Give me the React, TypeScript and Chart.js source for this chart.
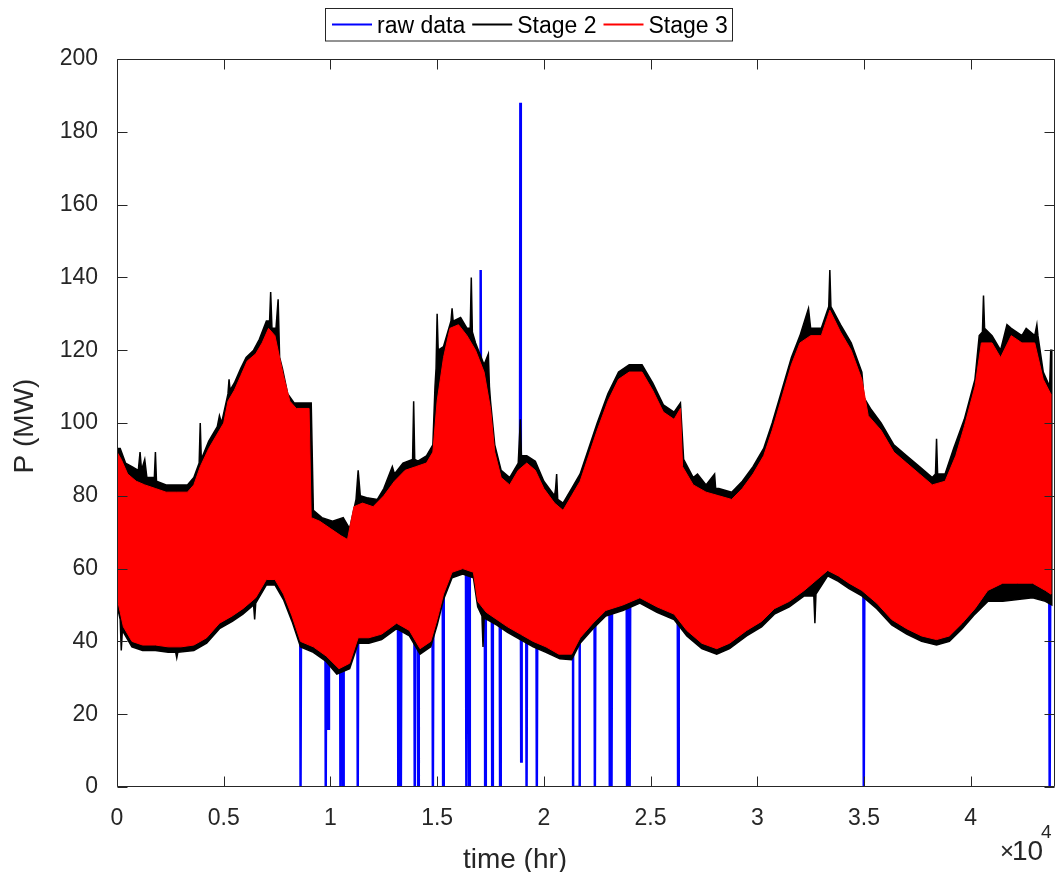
import React, { useEffect, useRef } from 'react';
import { Chart, registerables } from 'chart.js';

Chart.register(...registerables);

const FONT = '"Liberation Sans", Arial, Helvetica, sans-serif';
const INK = '#262626';

// ---- axis ----
const X_MIN = 0;
const X_MAX = 43950;
const Y_MIN = 0;
const Y_MAX = 200;
const xTickValues = [0, 5000, 10000, 15000, 20000, 25000, 30000, 35000, 40000];
const xTickLabels = ['0', '0.5', '1', '1.5', '2', '2.5', '3', '3.5', '4'];
const yTickValues = [0, 20, 40, 60, 80, 100, 120, 140, 160, 180, 200];
const yTickLabels = ['0', '20', '40', '60', '80', '100', '120', '140', '160', '180', '200'];

// ---- raw data (blue): level inside the band, with outage drops and spikes ----
const rawHours = [
  0, 300,
  8580, 8600, 8630,
  9760, 9780, 9810,
  9880, 9900, 9930,
  10450, 10470, 10500,
  10570, 10590, 10620,
  11260, 11280, 11310,
  13160, 13180, 13210,
  13280, 13300, 13330,
  13930, 13950, 13980,
  14090, 14110, 14140,
  14780, 14800, 14830,
  15260, 15280, 15310,
  16350, 16370, 16400,
  16480, 16500, 16530,
  17020, 17040, 17070,
  17230, 17250, 17280,
  17560, 17580, 17610,
  17930, 17950, 17980,
  18880, 18900, 18920, 18940, 18960,
  19170, 19190, 19220,
  19650, 19670, 19700,
  21370, 21370, 21680, 21680,
  22370, 22390, 22420,
  23070, 23090, 23120,
  23150, 23170, 23200,
  23880, 23900, 23930,
  24000, 24020, 24050,
  26270, 26290, 26320,
  34970, 34990, 35020,
  43680, 43700, 43730, 43800,
];
const rawValues = [
  55, 63,
  63, 0, 63,
  63, 0, 63,
  63, 16, 63,
  63, 0, 63,
  63, 0, 63,
  63, 0, 63,
  63, 0, 63,
  63, 0, 63,
  63, 0, 63,
  63, 0, 63,
  63, 0, 63,
  63, 0, 63,
  63, 0, 63,
  63, 0, 63,
  63, 142, 63,
  63, 0, 63,
  63, 0, 63,
  63, 0, 63,
  63, 188, 63, 7, 63,
  63, 0, 63,
  63, 0, 63,
  63, 0, 0, 63,
  63, 0, 63,
  63, 0, 63,
  63, 0, 63,
  63, 0, 63,
  63, 0, 63,
  63, 0, 63,
  63, 0, 63,
  63, 0, 63, 63,
];

// ---- Stage 2 (black) envelope ----
const stage2UpperHours = [
  0, 150, 400, 700, 1000, 1080, 1150, 1300, 1400, 1750, 1800, 1850, 2300, 2800, 3300, 3600, 3850, 3900, 3950,
  4300, 4700, 4800, 4900, 5200, 5250, 5300, 5500, 5800, 6050, 6400, 6670, 7000, 7150, 7200, 7260, 7450,
  7550, 7620, 7750, 8000, 8300, 9100, 9200, 9600, 10100, 10600, 10900, 11200, 11300, 11400, 11700, 12200,
  12500, 12900, 13000, 13400, 13850, 13900, 13950, 14100, 14500, 14800, 14900, 14950, 15000, 15050, 15300,
  15650, 15700, 15750, 16100, 16400, 16550, 16600, 16650, 16800, 17200, 17400, 17450, 17500, 17700, 18000,
  18400, 18800, 18900, 18950, 19200, 19600, 20000, 20500, 20550, 20600, 20650, 20900, 21300, 21700, 22100,
  22500, 23000, 23500, 24000, 24600, 25100, 25600, 26100, 26400, 26550, 27000, 27200, 27600, 28000, 28050,
  28200, 28800, 29300, 29800, 30300, 30700, 31100, 31600, 32000, 32400, 32500, 33000, 33350, 33400, 33450,
  33900, 34400, 34900, 35000, 35300, 35800, 36400, 37000, 37600, 38200, 38350, 38400, 38450, 38800, 39200,
  39700, 40200, 40400, 40550, 40600, 40650, 41000, 41400, 41700, 41900, 42400, 42600, 43000, 43100, 43150,
  43400, 43700, 43750, 43800,
];
const stage2Upper = [
  93, 93, 89, 88, 87, 92, 87, 90, 85, 85, 92, 84, 83, 83, 83, 85, 89, 100, 90,
  95, 99, 102, 100, 108, 112, 109, 111, 115, 118, 120, 123, 128, 128, 136, 126, 126,
  134, 118, 115, 108, 105.5, 105.5, 76, 74, 73, 74, 71, 79, 87, 80, 79.5, 79,
  82, 88, 86, 89, 90, 106, 90, 89.5, 91, 94, 110, 115, 130, 120, 121,
  128, 131.5, 128, 129, 126, 126, 140, 125, 122, 116, 119, 110, 106, 94, 87,
  85, 89, 101, 91, 91, 89.5, 84, 80, 82, 86, 79, 78, 82, 86, 93,
  100, 108, 114, 116, 116, 111, 105, 103, 105.5, 90, 85, 86, 83, 86, 82,
  82, 81, 84, 88, 93, 100, 108, 118, 124, 131.5, 126, 126, 132, 142, 132,
  127, 122, 114, 107, 104, 100, 94, 91, 88, 85, 86, 95.7, 86, 86, 93,
  101, 112, 124, 125, 135, 126, 124, 120, 127, 126, 124, 126, 124, 127, 124,
  114, 110, 120, 120,
];
const stage2LowerHours = [
  0, 150, 200, 250, 700, 1200, 1800, 2400, 2750, 2800, 2850, 3600, 4200, 4800, 5400, 5900, 6400, 6450, 6500,
  7000, 7400, 7800, 8200, 8600, 9200, 9800, 10300, 10900, 11300, 11800, 12400, 13100, 13700, 14200, 14700,
  15000, 15300, 15700, 16200, 16700, 16900, 17100, 17150, 17200, 17800, 18300, 18900, 19500, 20100, 20750,
  21300, 21700, 22300, 22900, 23700, 24500, 25300, 26100, 26700, 27400, 28100, 28700, 29500, 30200, 30800,
  31500, 32200, 32650, 32700, 32750, 33300, 33800, 34300, 34900, 35600, 36300, 37000, 37700, 38400, 39000,
  39600, 40200, 40800, 41500, 42200, 42900, 43500, 43800,
];
const stage2Lower = [
  50, 46, 37.5, 43, 38.5, 37.5, 37.5, 37, 37, 35.5, 37, 37.5, 39.5, 43.5, 45.5, 47.5, 50, 46, 50.5,
  55.5, 55.5, 51.5, 45.5, 38.5, 37, 34.5, 31, 32.5, 39.5, 39.5, 40.5, 43.5, 41.5, 36.5, 38.5,
  44.5, 51.5, 57.5, 58.5, 57.5, 49.5, 47, 38.5, 46.5, 44.5, 42.5, 40.5, 38.5, 37, 35.2,
  35, 39.5, 43.5, 47, 48.5, 50.5, 48, 46, 41.5, 38, 36.5, 38, 41.5, 44, 47.5,
  49.5, 52.5, 52.5, 45, 53, 58, 56.5, 54.5, 52.5, 49, 44.5, 42, 40, 39, 40,
  43.5, 47.5, 51, 51, 51.5, 52, 51, 50,
];

// ---- Stage 3 (red) envelope ----
const stage3UpperHours = [
  0, 200, 500, 900, 1300, 1800, 2300, 2800, 3300, 3600, 3900, 4300, 4700, 5000, 5200, 5500, 5800, 6100,
  6500, 6800, 7100, 7400, 7800, 8100, 8400, 9000, 9100, 9500, 10000, 10500, 10800, 11100, 11500, 12000,
  12500, 13000, 13500, 14000, 14500, 14800, 15000, 15300, 15600, 16000, 16400, 16800, 17200, 17500, 17700,
  18000, 18400, 18800, 19200, 19600, 20000, 20500, 20900, 21300, 21700, 22100, 22500, 23000, 23500, 24000,
  24600, 25100, 25600, 26100, 26400, 26500, 27000, 27600, 28200, 28800, 29300, 29800, 30300, 30700, 31100,
  31600, 32000, 32500, 33000, 33400, 33900, 34400, 34900, 35200, 35800, 36400, 37000, 37600, 38200, 38800,
  39300, 39700, 40200, 40500, 41000, 41400, 41900, 42400, 43000, 43400, 43750,
];
const stage3Upper = [
  92, 90, 86, 84, 83, 82, 81, 81, 81, 83, 88, 93, 97, 100, 106, 109, 113, 117,
  119, 122, 126, 124, 113, 106, 104, 104, 74, 73, 71, 69, 68, 77, 78, 77,
  80, 84, 87, 88, 89, 92, 106, 118, 126, 127, 124, 120, 114, 104, 92,
  85, 83, 87, 89, 87, 82, 78, 76, 80, 84, 91, 98, 106, 112, 114,
  114, 109, 103, 101, 104, 88, 83, 81, 80, 79, 82, 86, 91, 98, 106,
  116, 122, 124, 124, 131, 125, 120, 112, 102, 98, 92, 89, 86, 83, 84,
  91, 99, 110, 122, 122, 118, 124, 122, 122, 112, 108,
];
const stage3LowerHours = [
  0, 300, 700, 1200, 1800, 2400, 3000, 3600, 4200, 4800, 5400, 5900, 6500, 7000, 7400, 7800, 8200, 8600,
  9200, 9800, 10400, 10900, 11300, 11800, 12400, 13100, 13700, 14200, 14700, 15000, 15300, 15700, 16200,
  16700, 16900, 17300, 17800, 18300, 18900, 19500, 20100, 20700, 21300, 21700, 22300, 22900, 23700, 24500,
  25300, 26100, 26700, 27400, 28100, 28700, 29500, 30200, 30800, 31500, 32200, 32800, 33300, 33800, 34300,
  34900, 35600, 36300, 37000, 37700, 38400, 39000, 39600, 40200, 40800, 41500, 42200, 42900, 43500, 43750,
];
const stage3Lower = [
  52, 44, 40, 39, 39, 38.5, 38.5, 39, 41, 45, 47, 49, 52, 57, 57, 53, 47, 40,
  38.5, 36, 32.5, 34, 41, 41, 42, 45, 43, 38, 40, 46, 53, 59, 60,
  59, 51, 48, 46, 44, 42, 40, 38.5, 36.5, 36.5, 41, 45, 48.5, 50, 52,
  49.5, 47.5, 43, 39.5, 38, 39.5, 43, 45.5, 49, 51, 54, 57, 59.5, 58, 56,
  54, 50.5, 46, 43.5, 41.5, 40.5, 41.5, 45, 49, 54, 56, 56, 56, 54, 53,
];

const toPoints = (hours: number[], values: number[]) => hours.map((h, i) => ({ x: h, y: values[i] }));
const bandShape = (uh: number[], uv: number[], lh: number[], lv: number[]) =>
  [...toPoints(uh, uv), ...toPoints(lh, lv).reverse()];

const legendItems = [
  { text: 'raw data', color: '#0000FF' },
  { text: 'Stage 2', color: '#000000' },
  { text: 'Stage 3', color: '#FF0000' },
];

const matlabPlugin = {
  id: 'matlabDecor',
  afterDraw(chart: any) {
    const ctx: CanvasRenderingContext2D = chart.ctx;
    const { left, right, top, bottom } = chart.chartArea;
    const xs = chart.scales.x;
    const ys = chart.scales.y;
    ctx.save();
    ctx.strokeStyle = INK;
    ctx.lineWidth = 1;
    const L = Math.round(left) + 0.5;
    const R = Math.round(right) - 0.5;
    const T = Math.round(top) + 0.5;
    const B = Math.round(bottom) - 0.5;
    ctx.beginPath();
    ctx.rect(L, T, R - L, B - T);
    ctx.stroke();
    const tl = 10;
    ctx.beginPath();
    for (const t of xs.ticks) {
      const px = Math.round(xs.getPixelForValue(t.value)) + 0.5;
      ctx.moveTo(px, B); ctx.lineTo(px, B - tl);
      ctx.moveTo(px, T); ctx.lineTo(px, T + tl);
    }
    for (const t of ys.ticks) {
      const py = Math.round(ys.getPixelForValue(t.value)) + 0.5;
      ctx.moveTo(L, py); ctx.lineTo(L + tl, py);
      ctx.moveTo(R, py); ctx.lineTo(R - tl, py);
    }
    ctx.stroke();

    // axis labels
    ctx.fillStyle = INK;
    ctx.font = `28px ${FONT}`;
    ctx.textAlign = 'center';
    ctx.textBaseline = 'alphabetic';
    ctx.fillText('time (hr)', 515, 868);
    ctx.save();
    ctx.translate(33, 426);
    ctx.rotate(-Math.PI / 2);
    ctx.fillText('P (MW)', 0, 0);
    ctx.restore();

    // exponent
    ctx.textAlign = 'left';
    ctx.font = `24px ${FONT}`;
    ctx.fillText('\u00d7', 1000, 859);
    ctx.font = `28px ${FONT}`;
    ctx.fillText('10', 1012, 860);
    ctx.font = `19px ${FONT}`;
    ctx.fillText('4', 1041, 838);

    // legend
    ctx.font = `23px ${FONT}`;
    const boxL = 325.5, boxT = 8.5, boxH = 32.5;
    let x = 332;
    const lineY = 24.5;
    const positions: { lx: number; tx: number }[] = [];
    for (const item of legendItems) {
      const tx = x + 45;
      positions.push({ lx: x, tx });
      x = tx + ctx.measureText(item.text).width + 7;
    }
    const boxR = x - 7 + 5;
    ctx.fillStyle = '#ffffff';
    ctx.fillRect(boxL, boxT, boxR - boxL, boxH);
    ctx.strokeStyle = INK;
    ctx.lineWidth = 1;
    ctx.strokeRect(boxL, boxT, Math.round(boxR - boxL), boxH);
    legendItems.forEach((item, i) => {
      const p = positions[i];
      ctx.strokeStyle = item.color;
      ctx.lineWidth = 2;
      ctx.beginPath();
      ctx.moveTo(p.lx, lineY);
      ctx.lineTo(p.lx + 40, lineY);
      ctx.stroke();
      ctx.fillStyle = '#000000';
      ctx.textAlign = 'left';
      ctx.textBaseline = 'alphabetic';
      ctx.fillText(item.text, p.tx, 32.5);
    });
    ctx.restore();
  },
};

export default function App() {
  const ref = useRef<HTMLCanvasElement>(null);
  useEffect(() => {
    const canvas = ref.current;
    if (!canvas) return;
    const chart = new Chart(canvas, {
      type: 'line',
      data: {
        datasets: [
          {
            label: 'raw data',
            data: toPoints(rawHours, rawValues),
            borderColor: '#0000FF',
            backgroundColor: '#0000FF',
            borderWidth: 2.5,
            pointRadius: 0,
            fill: false,
            tension: 0,
            order: 3,
          },
          {
            label: 'Stage 2',
            data: bandShape(stage2UpperHours, stage2Upper, stage2LowerHours, stage2Lower),
            borderColor: '#000000',
            backgroundColor: '#000000',
            borderWidth: 1.5,
            pointRadius: 0,
            fill: 'shape',
            tension: 0,
            order: 2,
          },
          {
            label: 'Stage 3',
            data: bandShape(stage3UpperHours, stage3Upper, stage3LowerHours, stage3Lower),
            borderColor: '#FF0000',
            backgroundColor: '#FF0000',
            borderWidth: 1,
            pointRadius: 0,
            fill: 'shape',
            tension: 0,
            order: 1,
          },
        ],
      },
      options: {
        responsive: false,
        animation: false,
        devicePixelRatio: 1,
        layout: { padding: { top: 59, right: 4, bottom: 0, left: 0 } },
        plugins: {
          legend: { display: false },
          tooltip: { enabled: false },
        },
        scales: {
          x: {
            type: 'linear',
            bounds: 'data',
            min: X_MIN,
            max: X_MAX,
            grid: { display: false },
            border: { display: false },
            afterBuildTicks: (s: any) => { s.ticks = xTickValues.map((v) => ({ value: v })); },
            ticks: {
              autoSkip: false,
              maxRotation: 0,
              padding: 10,
              color: INK,
              font: { family: FONT, size: 23 },
              callback: (_v: any, i: number) => xTickLabels[i],
            },
            afterFit: (s: any) => { s.height = 85; },
          },
          y: {
            bounds: 'data',
            min: Y_MIN,
            max: Y_MAX,
            grid: { display: false },
            border: { display: false },
            afterBuildTicks: (s: any) => { s.ticks = yTickValues.map((v) => ({ value: v })); },
            ticks: {
              autoSkip: false,
              padding: 11,
              color: INK,
              font: { family: FONT, size: 23 },
              callback: (_v: any, i: number) => yTickLabels[i],
            },
            afterFit: (s: any) => { s.width = 117; },
          },
        },
      } as any,
      plugins: [matlabPlugin],
    });
    return () => chart.destroy();
  }, []);
  return (
    <div style={{ position: 'absolute', left: 0, top: 0, width: 1059, height: 872, background: '#ffffff' }}>
      <canvas ref={ref} width={1059} height={872} style={{ display: 'block', width: 1059, height: 872 }} />
    </div>
  );
}
